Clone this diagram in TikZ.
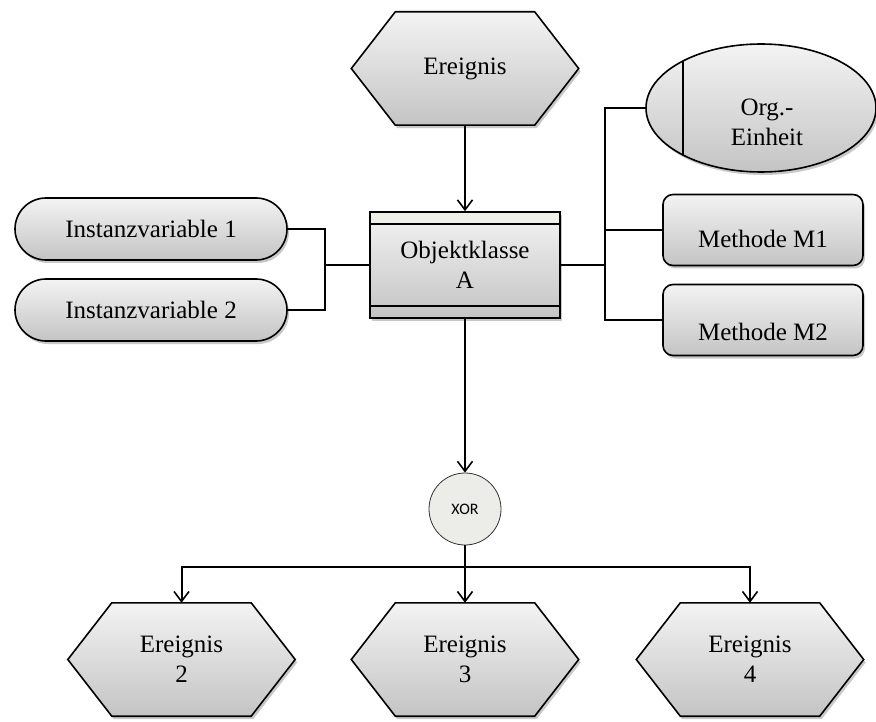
\documentclass[tikz,border=0pt]{standalone}
\usepackage{fontspec}
\setmainfont{Liberation Serif}
\newfontfamily\xorfont{Carlito}
\usetikzlibrary{arrows.meta,shadows,shapes.geometric}
\pgfdeclarelayer{background}
\pgfsetlayers{background,main}

\definecolor{gfTop}{HTML}{F3F3F3}
\definecolor{gfBot}{HTML}{C4C4C4}
\definecolor{bandTop}{HTML}{EFEFEA}
\definecolor{xorFill}{HTML}{ECECE8}

\tikzset{
  every node/.style={font=\fontsize{25}{30}\selectfont, align=center, inner sep=0pt},
  shapefill/.style={top color=gfTop, bottom color=gfBot, draw=black, line width=1.6pt,
    drop shadow={shadow xshift=2pt, shadow yshift=-3pt, opacity=.3, fill=black!70}},
  evtbox/.style={minimum width=227pt, minimum height=113pt},
  stadium/.style={shapefill, rounded corners=31pt, minimum width=272pt, minimum height=62pt},
  methbox/.style={shapefill, rounded corners=10pt, minimum width=200pt, minimum height=71pt},
  classbox/.style={shapefill, minimum width=190pt, minimum height=106pt,
    path picture={
      \fill[bandTop] (path picture bounding box.north west) rectangle ([yshift=-12pt]path picture bounding box.north east);
      \draw[line width=2pt] ([yshift=-12pt]path picture bounding box.north west) -- ([yshift=-12pt]path picture bounding box.north east);
      \draw[line width=2pt] ([yshift=12pt]path picture bounding box.south west) -- ([yshift=12pt]path picture bounding box.south east);
    }},
  orgunit/.style={shapefill, ellipse, minimum width=230pt, minimum height=128pt,
    path picture={
      \draw[line width=2pt] ([xshift=-78pt]path picture bounding box.north) -- ([xshift=-78pt]path picture bounding box.south);
    }},
  xorgate/.style={circle, fill=xorFill, draw=black!80, line width=0.8pt, minimum size=72pt,
    font=\xorfont\fontsize{16}{18}\selectfont},
  conn/.style={line width=2pt},
  arr/.style={conn, -{Straight Barb[length=10pt, width=15pt, line width=1.6pt]}},
}

% hexagonal event body drawn behind the named node
\newcommand\hexbody[1]{%
  \begin{pgfonlayer}{background}
    \path[shapefill] ([xshift=44pt]#1.north west) -- ([xshift=-44pt]#1.north east) -- (#1.east)
      -- ([xshift=-44pt]#1.south east) -- ([xshift=44pt]#1.south west) -- (#1.west) -- cycle;
  \end{pgfonlayer}}

\begin{document}
\begin{tikzpicture}[x=1pt, y=-1pt]
  \useasboundingbox (0,0) rectangle (876,722);

  % events
  \node[evtbox] (e0) at (465,68.5) {Ereignis};
  \hexbody{e0}
  \node[evtbox] (e2) at (181.5,659.5) {Ereignis\\2};
  \hexbody{e2}
  \node[evtbox] (e3) at (465,659.5) {Ereignis\\3};
  \hexbody{e3}
  \node[evtbox] (e4) at (750,659.5) {Ereignis\\4};
  \hexbody{e4}

  % object class with attributes and methods
  \node[classbox] (obj) at (465,265) {Objektklasse\\A};
  \node[stadium] (i1) at (151,229) {Instanzvariable 1};
  \node[stadium] (i2) at (151,310) {Instanzvariable 2};
  \node[orgunit, label={[xshift=6pt, yshift=-14pt]center:Org.-\\Einheit}] (org) at (761,108) {};
  \node[methbox, label={[yshift=-9pt]center:Methode M1}] (m1) at (763,230) {};
  \node[methbox, label={[yshift=-12pt]center:Methode M2}] (m2) at (763,320) {};

  % connector
  \node[xorgate] (xor) at (465,509) {XOR};

  % junction points
  \coordinate (lj) at (325,265);
  \coordinate (rj) at (605,265);
  \coordinate (split) at (465,567);

  % links
  \draw[arr] (e0.south) -- (obj.north);
  \draw[conn] (obj.west) -- (lj);
  \draw[conn] (i1.east) -| (lj) |- (i2.east);
  \draw[conn] (obj.east) -- (rj);
  \draw[conn] (org.west) -| (rj) |- (m2.west);
  \draw[conn] (m1.west) -- (m1.west -| rj);
  \draw[arr] (obj.south) -- (xor.north);
  \draw[conn] (xor.south) -- (split);
  \draw[arr] (split) -- (e3.north);
  \draw[arr] (split) -| (e2.north);
  \draw[arr] (split) -| (e4.north);
\end{tikzpicture}
\end{document}
